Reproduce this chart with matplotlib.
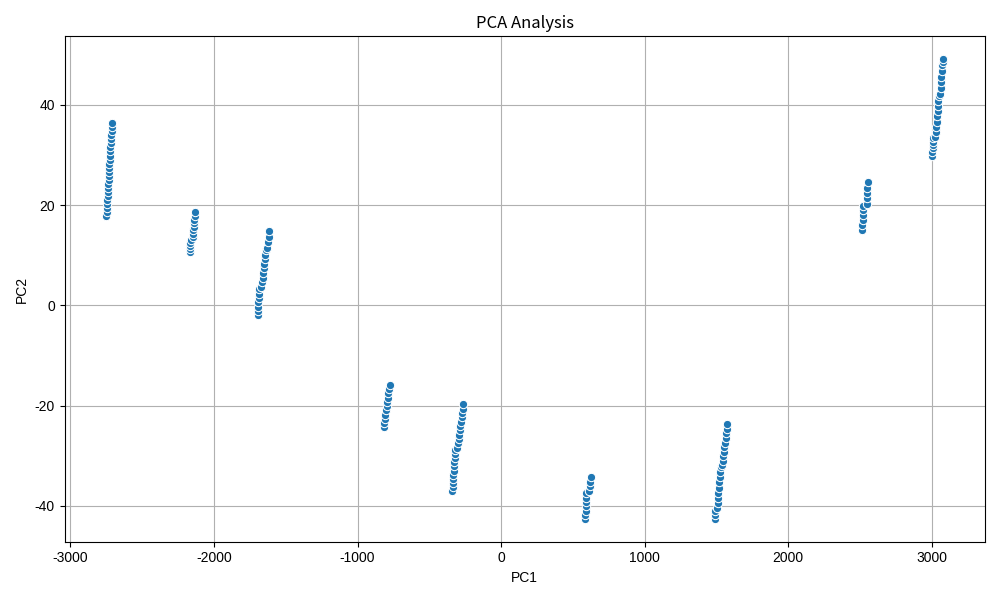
import matplotlib
matplotlib.use("Agg")
import matplotlib.pyplot as plt
import numpy as np

plt.rcParams["font.family"] = ["Liberation Sans", "DejaVu Sans"]
plt.rcParams["axes.unicode_minus"] = False

# PCA scores, one list per cluster
c1_x = [-2750, -2748, -2747, -2745, -2744, -2742, -2740, -2739, -2737, -2735, -2734, -2732,
        -2730, -2729, -2727, -2725, -2724, -2722, -2720, -2718, -2716, -2714, -2711, -2708]
c1_y = [17.9, 18.7, 19.5, 20.3, 21.1, 21.9, 22.7, 23.5, 24.3, 25.1, 25.9, 26.7,
        27.5, 28.3, 29.1, 29.9, 30.7, 31.5, 32.3, 33.1, 33.9, 34.7, 35.5, 36.4]

c2_x = [-2168, -2167, -2166, -2164, -2163, -2150, -2148, -2146, -2143, -2141, -2139, -2136, -2133]
c2_y = [10.6, 11.2, 11.9, 12.5, 13.1, 13.6, 14.3, 15.0, 15.7, 16.4, 17.1, 17.8, 18.7]

c3_x = [-1694, -1693, -1692, -1691, -1690, -1689, -1688, -1670, -1666, -1662, -1658, -1654,
        -1650, -1646, -1643, -1640, -1630, -1625, -1620, -1614]
c3_y = [-2.0, -1.2, -0.3, 0.6, 1.4, 2.3, 3.2, 3.7, 4.6, 5.5, 6.4, 7.4,
        8.3, 9.2, 10.1, 11.0, 11.5, 12.6, 13.7, 14.8]

c4_x = [-816, -813, -810, -806, -802, -798, -794, -790, -786, -782, -777]
c4_y = [-24.3, -23.5, -22.6, -21.8, -20.9, -20.1, -19.3, -18.4, -17.6, -16.7, -15.9]

c5_x = [-340, -338, -336, -334, -332, -330, -328, -326, -324, -322, -320,
        -305, -301, -297, -293, -289, -284, -279, -275, -271, -267, -263]
c5_y = [-37.1, -36.3, -35.5, -34.6, -33.8, -33.0, -32.1, -31.3, -30.5, -29.6, -28.8,
        -28.4, -27.5, -26.7, -25.8, -24.9, -24.1, -23.2, -22.3, -21.5, -20.6, -19.7]

c6_x = [586, 587, 588, 589, 590, 591, 592, 612, 616, 620, 623]
c6_y = [-42.6, -41.8, -41.0, -40.1, -39.3, -38.4, -37.5, -37.0, -36.1, -35.2, -34.3]

c7_x = [1488, 1490, 1492, 1505, 1508, 1511, 1514, 1517, 1520, 1523, 1526, 1530,
        1540, 1543, 1547, 1551, 1555, 1559, 1563, 1567, 1570, 1572]
c7_y = [-42.6, -41.8, -41.0, -40.4, -39.4, -38.4, -37.4, -36.4, -35.3, -34.3, -33.3, -32.3,
        -31.9, -31.0, -30.1, -29.2, -28.3, -27.4, -26.4, -25.5, -24.6, -23.7]

c8_x = [2514, 2516, 2518, 2520, 2522, 2524, 2545, 2547, 2549, 2550, 2552]
c8_y = [15.0, 16.0, 17.0, 18.0, 19.0, 19.9, 20.3, 21.4, 22.4, 23.5, 24.6]

c9_x = [3001, 3003, 3005, 3007, 3008, 3010, 3025, 3028, 3031, 3034, 3037, 3040, 3043,
        3046, 3050, 3058, 3061, 3064, 3067, 3070, 3073, 3076, 3079]
c9_y = [29.9, 30.6, 31.3, 31.9, 32.6, 33.3, 33.6, 34.6, 35.6, 36.6, 37.7, 38.7, 39.7,
        40.8, 41.8, 42.2, 43.3, 44.5, 45.6, 46.8, 47.9, 48.5, 49.1]

pc1 = np.concatenate([c1_x, c2_x, c3_x, c4_x, c5_x, c6_x, c7_x, c8_x, c9_x])
pc2 = np.concatenate([c1_y, c2_y, c3_y, c4_y, c5_y, c6_y, c7_y, c8_y, c9_y])

fig, ax = plt.subplots(figsize=(10, 6), dpi=100)
ax.scatter(pc1, pc2, s=36, color="#1f77b4", edgecolors="white", linewidths=0.75, zorder=3)
ax.set_title("PCA Analysis", family=["Noto Sans CJK JP", "DejaVu Sans"])
ax.set_xlabel("PC1")
ax.set_ylabel("PC2")
ax.grid(True)
fig.tight_layout()
fig.savefig("out.png")
